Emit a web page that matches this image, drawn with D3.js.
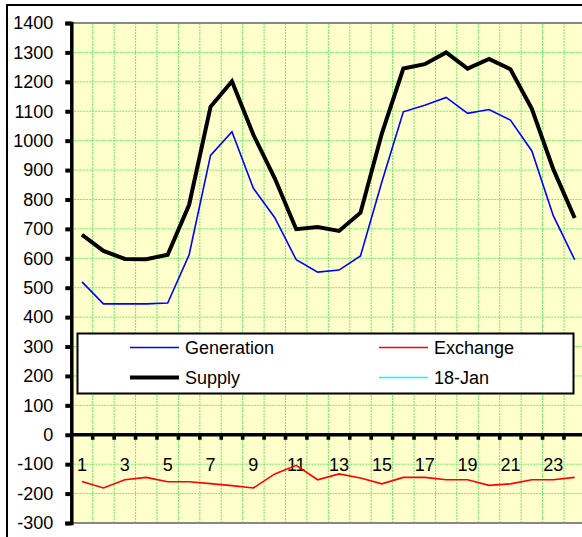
<!DOCTYPE html>
<html>
<head>
<meta charset="utf-8">
<script src="https://cdn.jsdelivr.net/npm/d3@7"></script>
<style>
  html, body { margin: 0; padding: 0; background: #fff; }
  svg { display: block; font-family: Arial, "Liberation Sans", sans-serif; }
</style>
</head>
<body>
<svg id="chart" width="582" height="537"></svg>
<script>
// Hourly values (hours 1..24)
const hours = d3.range(1, 25);
const generation = [520, 445, 445, 445, 448, 612, 950, 1030, 838, 738, 595, 553,
                    560, 608, 860, 1098, 1120, 1147, 1093, 1106, 1070, 965, 745, 595];
const exchange = [-159, -181, -153, -145, -160, -160, -166, -173, -181, -133, -104, -153,
                  -133, -147, -167, -145, -145, -153, -153, -172, -167, -153, -153, -145];
const supply = [680, 625, 598, 597, 612, 782, 1115, 1202, 1020, 872, 699, 706,
                693, 755, 1025, 1245, 1260, 1300, 1245, 1278, 1243, 1108, 903, 737];
const jan18 = []; // no values plotted, shown in legend only
const yTicks = d3.range(-300, 1401, 100);
const xTickLabels = [1, 3, 5, 7, 9, 11, 13, 15, 17, 19, 21, 23];

const legendItems = [
  { name: "Generation", color: "#0000ff", width: 1.6, col: 0, row: 0 },
  { name: "Exchange", color: "#ff0000", width: 1.6, col: 1, row: 0 },
  { name: "Supply", color: "#000000", width: 4, col: 0, row: 1 },
  { name: "18-Jan", color: "#00ffff", width: 1.6, col: 1, row: 1 }
];

const svg = d3.select("#chart");

// outer chart frame
svg.append("rect")
  .attr("x", 7).attr("y", 5).attr("width", 600).attr("height", 560)
  .attr("fill", "#fff").attr("stroke", "#000").attr("stroke-width", 2);

const plotL = 71.3, plotR = 585.4, plotT = 23, plotB = 523;

const x = d3.scaleBand().domain(hours).range([plotL, plotR]).padding(0);
const y = d3.scaleLinear().domain([-300, 1400]).range([plotB, plotT]);
const cx = d => x(d) + x.bandwidth() / 2;

// plot area background
svg.append("rect")
  .attr("x", plotL).attr("y", plotT)
  .attr("width", plotR - plotL).attr("height", plotB - plotT)
  .attr("fill", "#ffffcc");

// gridlines
const grid = svg.append("g")
  .attr("stroke", "#66ee66").attr("stroke-width", 1).attr("stroke-dasharray", "2,1");
grid.selectAll("line.h").data(yTicks.filter(v => v > -300 && v < 1400)).join("line")
  .attr("x1", plotL).attr("x2", plotR)
  .attr("y1", d => y(d)).attr("y2", d => y(d));
grid.selectAll("line.v").data(hours.slice(1)).join("line")
  .attr("x1", d => x(d)).attr("x2", d => x(d))
  .attr("y1", plotT).attr("y2", plotB);

// plot area border (top / bottom)
svg.append("line").attr("x1", plotL).attr("x2", plotR).attr("y1", plotT).attr("y2", plotT)
  .attr("stroke", "#888").attr("stroke-width", 2);
svg.append("line").attr("x1", plotL).attr("x2", plotR).attr("y1", plotB).attr("y2", plotB)
  .attr("stroke", "#888").attr("stroke-width", 2);

// y axis
const yAxis = svg.append("g").attr("transform", `translate(${plotL},0)`)
  .call(d3.axisLeft(y).tickValues(yTicks).tickFormat(d => String(d))
    .tickSize(6).tickPadding(12));
yAxis.select(".domain").attr("stroke", "#000").attr("stroke-width", 3.5);
yAxis.selectAll(".tick line").attr("stroke", "#000").attr("stroke-width", 4);
yAxis.selectAll(".tick text")
  .attr("font-size", 18).attr("fill", "#000")
  .attr("font-family", "Arial, 'Liberation Sans', sans-serif");

// x axis along zero
const xAxisG = svg.append("g").attr("transform", `translate(0,${y(0)})`);
xAxisG.append("line").attr("x1", plotL).attr("x2", plotR)
  .attr("stroke", "#000").attr("stroke-width", 3.5);
xAxisG.selectAll("rect.tick").data(hours.slice(1)).join("rect")
  .attr("x", d => x(d) - 1.8).attr("y", 0).attr("width", 3.6).attr("height", 5)
  .attr("fill", "#000");
xAxisG.selectAll("text").data(xTickLabels).join("text")
  .attr("x", d => cx(d)).attr("y", 36)
  .attr("text-anchor", "middle").attr("font-size", 18).attr("fill", "#000")
  .text(d => d);

// series lines
const line = d3.line().x((d, i) => cx(hours[i])).y(d => y(d));
svg.append("path").datum(exchange).attr("d", line)
  .attr("fill", "none").attr("stroke", "#ff0000").attr("stroke-width", 1.6);
svg.append("path").datum(generation).attr("d", line)
  .attr("fill", "none").attr("stroke", "#0000ff").attr("stroke-width", 1.6);
svg.append("path").datum(supply).attr("d", line)
  .attr("fill", "none").attr("stroke", "#000").attr("stroke-width", 4)
  .attr("stroke-linejoin", "miter");
svg.append("path").datum(jan18).attr("d", jan18.length ? line(jan18) : null)
  .attr("fill", "none").attr("stroke", "#00ffff").attr("stroke-width", 1.6);

// legend
const lg = svg.append("g");
lg.append("rect").attr("x", 77.5).attr("y", 333.5).attr("width", 496).attr("height", 60)
  .attr("fill", "#fff").attr("stroke", "#000").attr("stroke-width", 2);
const colX = [130, 379], rowY = [347.5, 377.5];
const entries = lg.selectAll("g.item").data(legendItems).join("g");
entries.append("line")
  .attr("x1", d => colX[d.col]).attr("x2", d => colX[d.col] + 49)
  .attr("y1", d => rowY[d.row]).attr("y2", d => rowY[d.row])
  .attr("stroke", d => d.color).attr("stroke-width", d => d.width);
entries.append("text")
  .attr("x", d => colX[d.col] + 55).attr("y", d => rowY[d.row])
  .attr("dy", "0.35em").attr("font-size", 18).attr("fill", "#000")
  .text(d => d.name);
</script>
</body>
</html>
